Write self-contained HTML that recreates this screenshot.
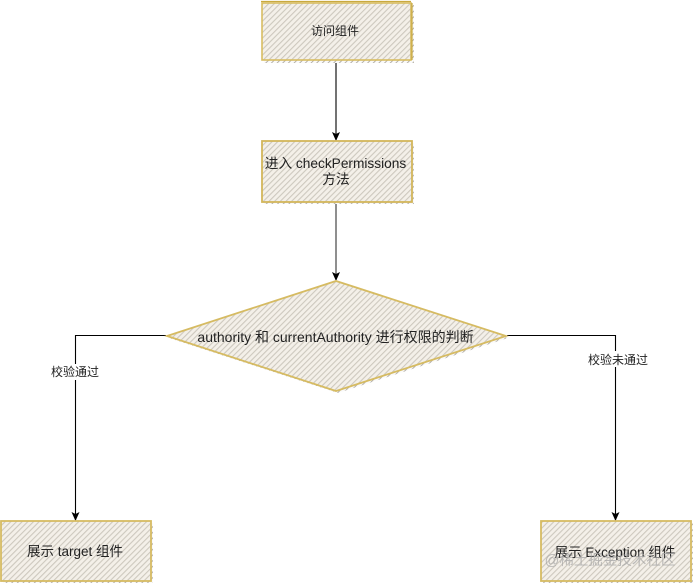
<!DOCTYPE html>
<html>
<head>
<meta charset="utf-8">
<style>
html,body{margin:0;padding:0;background:#fff;width:693px;height:584px;overflow:hidden}
svg{display:block}
text{font-family:"Liberation Sans","Noto Sans CJK SC",sans-serif;font-size:13.500px;fill:#222;text-anchor:middle}
</style>
</head>
<body>
<svg width="693" height="584" viewBox="0 0 693 584" xmlns="http://www.w3.org/2000/svg">
<defs>
<pattern id="h" width="4" height="4" patternUnits="userSpaceOnUse" patternTransform="rotate(45)">
<rect width="4" height="4" fill="#f4f0e9"/>
<rect width="1.1" height="4" fill="#cdc8be"/>
</pattern>
<pattern id="s" width="4" height="4" patternUnits="userSpaceOnUse" patternTransform="rotate(45)">
<rect width="4" height="4" fill="#fafafa"/>
<rect width="1" height="4" fill="#b5b0a8"/>
</pattern>
<marker id="a" markerWidth="10" markerHeight="10" refX="8" refY="4" orient="auto" markerUnits="userSpaceOnUse">
<path d="M0 0 L9 4 L0 8 L2 4 Z" fill="#000"/>
</marker>
</defs>

<!-- connectors -->
<g fill="none" stroke="#000" stroke-width="1.1">
<path d="M336 62V140" marker-end="url(#a)"/>
<path d="M336 204V280" stroke="#333" marker-end="url(#a)"/>
<path d="M166 335.500H75.500V520" marker-end="url(#a)"/>
<path d="M507 335.500H615.500V520" marker-end="url(#a)"/>
</g>

<!-- top box -->
<rect x="264" y="5" width="150" height="58" fill="url(#s)"/>
<rect x="262" y="3" width="149" height="57" fill="url(#h)"/>
<rect x="262" y="3" width="149" height="57" fill="none" stroke="#d8bd62" stroke-width="1.6"/>
<path d="M261 1.500H411M412 3V60" fill="none" stroke="#c9a93f" stroke-width="1.2"/>
<text x="335" y="35" style="font-size:12px">访问组件</text>

<!-- second box -->
<rect x="264" y="143" width="150" height="61" fill="url(#s)"/>
<rect x="262" y="141" width="150" height="61" fill="url(#h)"/>
<rect x="262" y="141" width="150" height="61" fill="none" stroke="#d3b65a" stroke-width="1.8"/>
<text x="335.500" y="168" style="font-size:13.700px">进入 checkPermissions</text>
<text x="336" y="184" style="font-size:13.700px">方法</text>

<!-- diamond -->
<polygon points="169,338 338,283 508,338 338,393" fill="url(#s)"/>
<polygon points="167,336 336,281 506,336 336,391" fill="url(#h)"/>
<polygon points="167,336 336,281 506,336 336,391" fill="none" stroke="#d6bb62" stroke-width="1.8"/>
<text x="335.500" y="342" style="font-size:14px">authority 和 currentAuthority 进行权限的判断</text>

<!-- bottom left -->
<rect x="3" y="523" width="150" height="60" fill="url(#s)"/>
<rect x="1" y="521" width="150" height="60" fill="url(#h)"/>
<rect x="1" y="521" width="150" height="60" fill="none" stroke="#d6bb62" stroke-width="1.8"/>
<text x="75" y="556">展示 target 组件</text>

<!-- bottom right -->
<rect x="543" y="523" width="150" height="60" fill="url(#s)"/>
<rect x="541" y="521" width="150" height="60" fill="url(#h)"/>
<rect x="541" y="521" width="150" height="60" fill="none" stroke="#d6bb62" stroke-width="1.8"/>
<text x="615" y="557">展示 Exception 组件</text>
<text x="610" y="565" style="font-size:14.500px;fill:#a5a5a5;fill-opacity:.75">@稀土掘金技术社区</text>

<!-- edge labels -->
<rect x="50" y="364" width="51" height="16" fill="#fff"/>
<text x="75" y="376" style="font-size:12px">校验通过</text>
<rect x="588" y="351" width="61" height="16" fill="#fff"/>
<text x="618" y="364" style="font-size:12px">校验未通过</text>
</svg>
</body>
</html>
